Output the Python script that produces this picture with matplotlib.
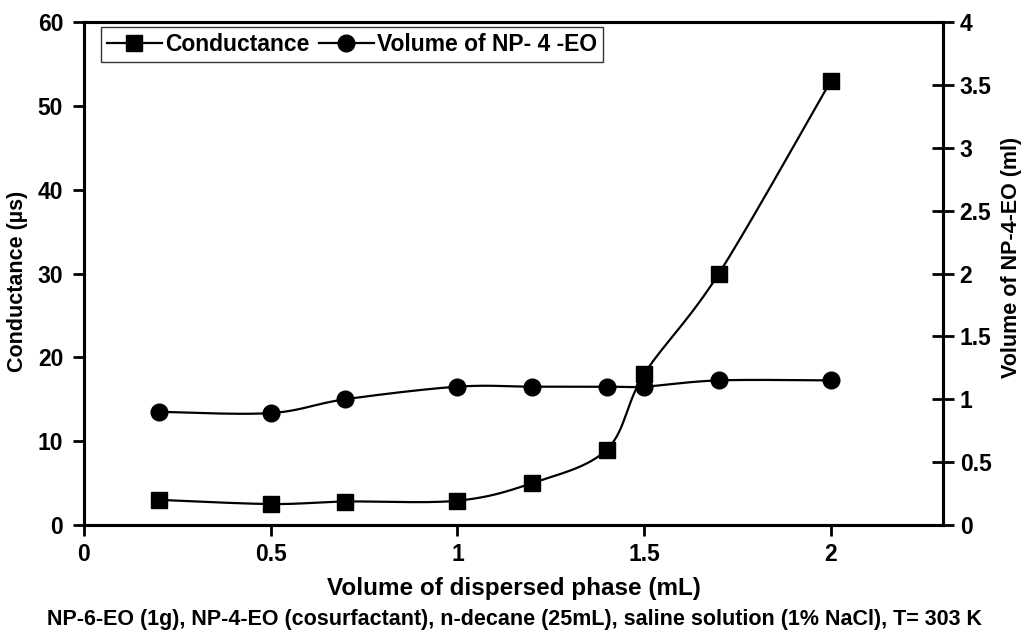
import numpy as np
import matplotlib.pyplot as plt
from matplotlib.lines import Line2D

plt.rcParams['font.family'] = ['Liberation Sans', 'DejaVu Sans']
plt.rcParams['font.weight'] = 'bold'

# data
volume_dispersed = [0.2, 0.5, 0.7, 1.0, 1.2, 1.4, 1.5, 1.7, 2.0]
conductance = [3.0, 2.5, 2.8, 2.9, 5.0, 9.0, 18.0, 30.0, 53.0]
vol_np4eo = [0.9, 0.89, 1.0, 1.1, 1.1, 1.1, 1.1, 1.15, 1.15]


def smooth(x, y, n=30):
    # bezier smoothing through the points (spreadsheet style smoothed line)
    x = np.asarray(x, float)
    y = np.asarray(y, float)
    px = np.concatenate([[x[0]], x, [x[-1]]])
    py = np.concatenate([[y[0]], y, [y[-1]]])
    xs, ys = [], []
    t = np.linspace(0, 1, n)
    for i in range(len(x) - 1):
        p0 = np.array([px[i + 1], py[i + 1]])
        p3 = np.array([px[i + 2], py[i + 2]])
        p1 = p0 + (np.array([px[i + 2], py[i + 2]]) - np.array([px[i], py[i]])) / 6
        p2 = p3 - (np.array([px[i + 3], py[i + 3]]) - np.array([px[i + 1], py[i + 1]])) / 6
        b = ((1 - t) ** 3)[:, None] * p0 + (3 * (1 - t) ** 2 * t)[:, None] * p1 \
            + (3 * (1 - t) * t ** 2)[:, None] * p2 + (t ** 3)[:, None] * p3
        xs.extend(b[:, 0])
        ys.extend(b[:, 1])
    return xs, ys


fig = plt.figure(figsize=(10.29, 6.44), dpi=100)
ax = fig.add_axes([0.0816, 0.1848, 0.8348, 0.781])
ax2 = ax.twinx()

sx, sy = smooth(volume_dispersed, conductance)
ax.plot(sx, sy, color='black', lw=1.6)
ax.plot(volume_dispersed, conductance, 's', color='black', ms=11, ls='none')

sx2, sy2 = smooth(volume_dispersed, vol_np4eo)
ax2.plot(sx2, sy2, color='black', lw=1.6)
ax2.plot(volume_dispersed, vol_np4eo, 'o', color='black', ms=12, ls='none')

ax.set_xlim(0, 2.3)
ax.set_ylim(0, 60)
ax2.set_ylim(0, 4)
ax.set_xticks([0, 0.5, 1, 1.5, 2])
ax.set_xticklabels(['0', '0.5', '1', '1.5', '2'])
ax.set_yticks(range(0, 61, 10))
ax2.set_yticks([0, 0.5, 1, 1.5, 2, 2.5, 3, 3.5, 4])
ax2.set_yticklabels(['0', '0.5', '1', '1.5', '2', '2.5', '3', '3.5', '4'])

for a in (ax, ax2):
    for s in a.spines.values():
        s.set_linewidth(2.2)
ax.tick_params(axis='y', labelsize=16.5, width=2, length=8, direction='out', pad=7)
ax.tick_params(axis='x', labelsize=16.5, width=2, length=8, direction='out', pad=5)
ax2.tick_params(axis='y', labelsize=16.5, width=2, length=16, direction='inout', pad=4)

ax.set_xlabel('Volume of dispersed phase (mL)', fontsize=17.5, fontweight='bold', labelpad=8)
ax.set_ylabel('Conductance (µs)', fontsize=15.5, fontweight='bold', labelpad=7)
ax2.set_ylabel('Volume of NP-4-EO (ml)', fontsize=15.5, fontweight='bold', labelpad=7)
ax.yaxis.label.set_y(0.485)
ax2.yaxis.label.set_y(0.531)

fig.text(0.5, 0.022, 'NP-6-EO (1g), NP-4-EO (cosurfactant), n-decane (25mL), saline solution (1% NaCl), T= 303 K',
         ha='center', va='bottom', fontsize=15.5, fontweight='bold')

handles = [Line2D([], [], color='black', lw=1.6, marker='s', ms=11),
           Line2D([], [], color='black', lw=1.6, marker='o', ms=12)]
leg = ax.legend(handles, ['Conductance', 'Volume of NP- 4 -EO'], loc='upper left',
                bbox_to_anchor=(0.012, 1.003), ncol=2, frameon=True,
                fancybox=False, edgecolor='black', handlelength=2.4, handletextpad=0.15,
                columnspacing=0.4, borderpad=0.25, borderaxespad=0.3,
                prop={'weight': 'bold', 'size': 16.5})
leg.get_frame().set_linewidth(1)

fig.savefig('out.png', dpi=100)
